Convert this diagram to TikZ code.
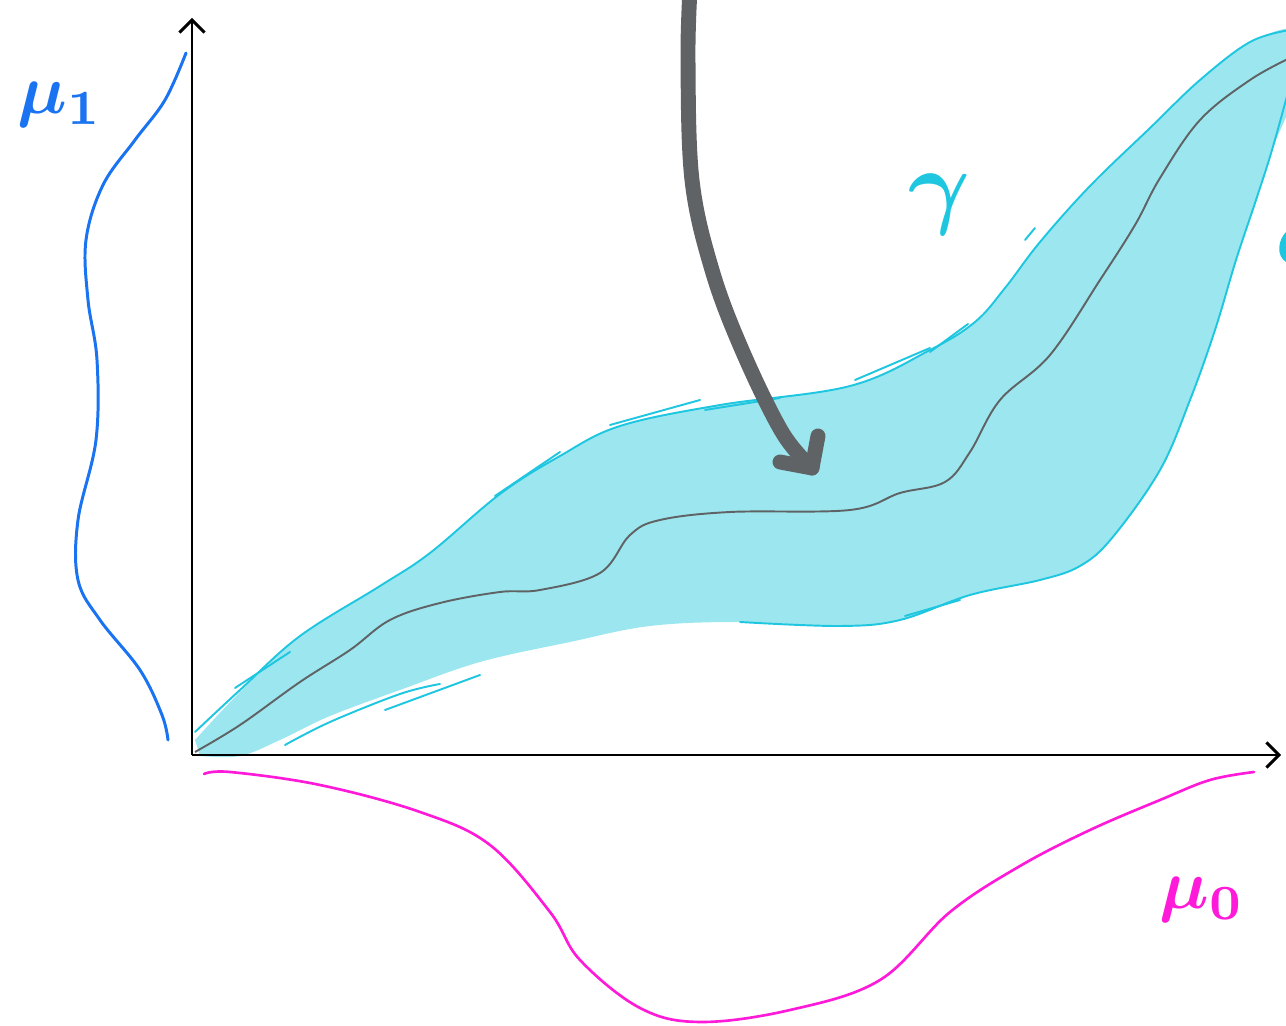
\documentclass[tikz,border=0pt]{standalone}
\usepackage{xcolor}
\usepackage{tikz}
\usetikzlibrary{arrows.meta}

\definecolor{mublue}{HTML}{1A73F0}
\definecolor{mupink}{HTML}{FF19D9}
\definecolor{bandfill}{HTML}{9CE7EF}
\definecolor{bandline}{HTML}{1FC6E0}
\definecolor{pengray}{HTML}{5F6366}

\begin{document}
\begin{tikzpicture}[
  x=0.02cm, y=-0.02cm,
  axis/.style={line width=1.7pt, draw=black, -{Straight Barb[length=2.5mm, width=5mm, line width=1.7pt]}},
  marginal/.style={line width=1.7pt, line cap=round, line join=round},
  bandedge/.style={draw=bandline, line width=1.1pt, line cap=round},
  label/.style={scale=4, inner sep=0pt, font=\boldmath},
  bigarrow/.style={draw=pengray, line width=8.5pt, line cap=round, line join=round}
]
\useasboundingbox (0,0) rectangle (1286,1026);

% axes
\coordinate (origin) at (192,755);
\coordinate (ytop) at (192,18);
\coordinate (xend) at (1281,755);

% coupling band
\begin{scope}
\clip (0,0) rectangle (1286,1026);
\fill[bandfill] plot[smooth, tension=0.6] coordinates {
  (195,740) (240,692) (300,636) (380,586) (430,553) (500,494) (560,456)
  (620,426) (720,405) (850,386) (930,350) (975,322) (1005,288) (1040,242)
  (1090,186) (1150,128) (1200,80) (1250,42) (1300,30) (1300,80)
  (1272,150) (1256,200) (1236,260) (1215,330) (1190,400) (1160,470)
  (1112,538) (1080,566) (1040,580) (970,595) (900,620) (840,626)
  (740,622) (650,626) (570,642) (480,662) (400,690) (330,716)
  (280,740) (240,756) (200,756)} -- cycle;
\draw[bandedge] plot[smooth, tension=0.6] coordinates {
  (195,732) (240,690) (300,636) (380,586) (430,553) (500,494) (560,456)
  (620,426) (720,405) (850,386) (930,350) (975,322) (1005,288) (1040,242)
  (1090,186) (1150,128) (1200,80) (1250,42) (1290,30)};
\draw[bandedge] plot[smooth, tension=0.6] coordinates {
  (1290,85) (1272,150) (1256,200) (1236,260) (1215,330) (1190,400)
  (1160,470) (1112,538) (1080,566) (1040,580) (970,595) (900,620)
  (840,626) (740,622)};
\draw[bandedge] plot[smooth, tension=0.6] coordinates {
  (285,745) (330,722) (400,694) (440,684)};
\draw[bandedge] (385,710) -- (480,675);
\draw[bandedge] (235,688) -- (290,652);
\draw[bandedge] (495,496) -- (560,452);
\draw[bandedge] (610,425) -- (700,400);
\draw[bandedge] (705,410) -- (780,398);
\draw[bandedge] (855,380) -- (930,348);
\draw[bandedge] (930,352) -- (968,324);
\draw[bandedge] (1025,240) -- (1035,228);
\draw[bandedge] (905,616) -- (960,600);
% inner curve
\draw[pengray, line width=1.1pt] plot[smooth, tension=0.6] coordinates {
  (195,752) (240,725) (300,682) (350,650) (390,620) (440,603) (500,592)
  (540,590) (600,573) (630,535) (660,520) (730,512) (850,510) (900,493)
  (945,482) (970,452) (1000,400) (1050,355) (1100,280) (1135,225)
  (1160,178) (1200,120) (1250,80) (1290,58)};
% cut-off stroke at right edge
\fill[bandline] (1286,232) .. controls (1278,240) and (1276,256) .. (1286,262) -- cycle;
\end{scope}

\draw[axis] (origin) -- (ytop);
\draw[axis] (origin) -- (xend);

% marginals
\draw[marginal, mublue] plot[smooth, tension=0.6] coordinates {
  (186,53) (165,100) (135,140) (103,185) (86,240) (88,300) (97,360)
  (96,440) (78,520) (78,580) (100,620) (140,670) (162,715) (168,740)};
\draw[marginal, mupink, line width=1.5pt] plot[smooth, tension=0.6] coordinates {
  (204,774) (230,772) (320,785) (420,812) (490,845) (550,912) (580,960)
  (640,1008) (700,1022) (790,1010) (880,980) (950,912) (1020,866)
  (1090,830) (1160,800) (1210,780) (1254,772)};

% transport arrow
\coordinate (tstart) at (690,-10);
\coordinate (ttip) at (812,468);
\draw[bigarrow] plot[smooth, tension=0.6] coordinates {
  (tstart) (688,60) (692,180) (712,270) (742,350) (782,432) (ttip)};
\draw[bigarrow] (780,462) -- (ttip) -- (818,436);

% labels
\node[label, mublue] (mu1) at (60,105) {$\mu_1$};
\node[label, mupink] (mu0) at (1202,900) {$\mu_0$};
\node[label, bandline, scale=1.35] (gamma) at (940,205) {$\gamma$};
\end{tikzpicture}
\end{document}
